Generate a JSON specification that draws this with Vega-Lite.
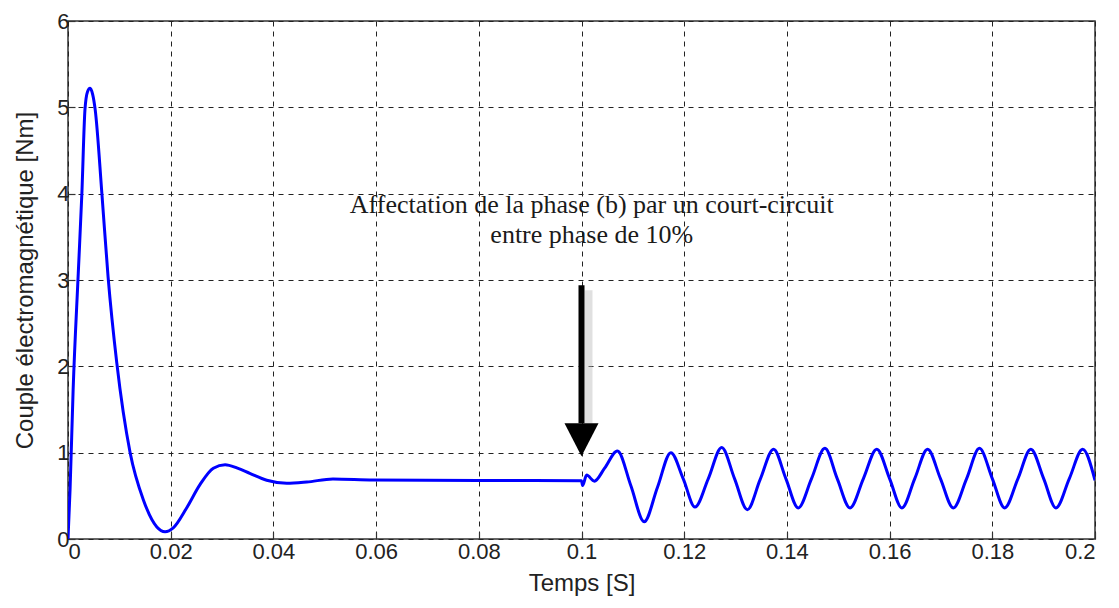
{
  "$schema": "https://vega.github.io/schema/vega-lite/v6.json",
  "width": 1027,
  "height": 518,
  "autosize": "none",
  "padding": {"left": 68, "top": 21, "right": 24, "bottom": 69},
  "background": "white",
  "config": {
    "view": {"stroke": "#333333", "strokeWidth": 1.5},
    "axis": {
      "grid": true,
      "gridColor": "#222222",
      "gridDash": [5, 5],
      "gridWidth": 1,
      "gridOpacity": 1,
      "domain": false,
      "tickColor": "#333333",
      "tickSize": -7,
      "tickWidth": 1.2,
      "labelFont": "Liberation Sans",
      "labelFontSize": 22,
      "labelColor": "#222222",
      "titleFont": "Liberation Sans",
      "titleFontSize": 24,
      "titleFontWeight": "normal",
      "titleColor": "#222222"
    }
  },
  "datasets": {
    "couple": [
      {"t": 0, "v": 0},
      {"t": 0.0004, "v": 0.57},
      {"t": 0.001, "v": 1.73},
      {"t": 0.002, "v": 3.08},
      {"t": 0.0027, "v": 4.0},
      {"t": 0.0033, "v": 4.97},
      {"t": 0.0038, "v": 5.18},
      {"t": 0.0043, "v": 5.22},
      {"t": 0.0048, "v": 5.15},
      {"t": 0.0053, "v": 4.97},
      {"t": 0.0066, "v": 4.0},
      {"t": 0.0078, "v": 3.04},
      {"t": 0.0095, "v": 2.04},
      {"t": 0.0121, "v": 1.0},
      {"t": 0.0147, "v": 0.45},
      {"t": 0.0173, "v": 0.14},
      {"t": 0.0189, "v": 0.085},
      {"t": 0.0205, "v": 0.13},
      {"t": 0.0231, "v": 0.36},
      {"t": 0.0257, "v": 0.63},
      {"t": 0.0283, "v": 0.82},
      {"t": 0.0306, "v": 0.86},
      {"t": 0.033, "v": 0.82},
      {"t": 0.0354, "v": 0.76},
      {"t": 0.0387, "v": 0.68},
      {"t": 0.0426, "v": 0.645},
      {"t": 0.0465, "v": 0.66},
      {"t": 0.0516, "v": 0.695},
      {"t": 0.0594, "v": 0.683},
      {"t": 0.08, "v": 0.678},
      {"t": 0.1, "v": 0.675},
      {"t": 0.1002, "v": 0.62},
      {"t": 0.101, "v": 0.74},
      {"t": 0.1025, "v": 0.67},
      {"t": 0.1045, "v": 0.82},
      {"t": 0.107, "v": 1.02},
      {"t": 0.1096, "v": 0.62},
      {"t": 0.1122, "v": 0.2},
      {"t": 0.1148, "v": 0.6},
      {"t": 0.1174, "v": 1.0},
      {"t": 0.1198, "v": 0.7},
      {"t": 0.1221, "v": 0.37},
      {"t": 0.1247, "v": 0.7},
      {"t": 0.1273, "v": 1.06},
      {"t": 0.1298, "v": 0.7},
      {"t": 0.1323, "v": 0.34},
      {"t": 0.1348, "v": 0.69},
      {"t": 0.1374, "v": 1.04},
      {"t": 0.1398, "v": 0.7},
      {"t": 0.1422, "v": 0.36},
      {"t": 0.1448, "v": 0.7},
      {"t": 0.1474, "v": 1.05},
      {"t": 0.1498, "v": 0.7},
      {"t": 0.1523, "v": 0.36},
      {"t": 0.1549, "v": 0.7},
      {"t": 0.1575, "v": 1.04},
      {"t": 0.16, "v": 0.7},
      {"t": 0.1624, "v": 0.36},
      {"t": 0.1649, "v": 0.7},
      {"t": 0.1674, "v": 1.04},
      {"t": 0.1699, "v": 0.7},
      {"t": 0.1724, "v": 0.36},
      {"t": 0.175, "v": 0.7},
      {"t": 0.1775, "v": 1.05},
      {"t": 0.18, "v": 0.7},
      {"t": 0.1824, "v": 0.36},
      {"t": 0.185, "v": 0.7},
      {"t": 0.1875, "v": 1.04},
      {"t": 0.19, "v": 0.7},
      {"t": 0.1924, "v": 0.36},
      {"t": 0.195, "v": 0.7},
      {"t": 0.1976, "v": 1.04},
      {"t": 0.2, "v": 0.68}
    ],
    "arrow": [
      {"t": 0.1, "top": 2.94, "bottom": 1.34, "head": 1.155}
    ],
    "note": [
      {"t": 0.102, "v": 3.775, "label": "Affectation de la phase (b) par un court-circuit"},
      {"t": 0.102, "v": 3.43, "label": "entre phase de 10%"}
    ]
  },
  "layer": [
    {
      "data": {"name": "couple"},
      "mark": {"type": "line", "color": "#0000ff", "strokeWidth": 3, "interpolate": "monotone", "clip": true},
      "encoding": {
        "x": {
          "field": "t", "type": "quantitative",
          "scale": {"domain": [0, 0.2], "nice": false, "zero": false},
          "axis": {"values": [0, 0.02, 0.04, 0.06, 0.08, 0.1, 0.12, 0.14, 0.16, 0.18, 0.2], "format": ".2~f", "title": "Temps [S]", "labelPadding": 9, "titlePadding": 9}
        },
        "y": {
          "field": "v", "type": "quantitative",
          "scale": {"domain": [0, 6], "nice": false},
          "axis": {"values": [0, 1, 2, 3, 4, 5, 6], "format": "d", "title": "Couple électromagnétique [Nm]", "labelPadding": 6, "titlePadding": 19}
        }
      }
    },
    {
      "data": {"name": "arrow"},
      "mark": {"type": "rule", "color": "#bbbbbb", "strokeWidth": 8, "opacity": 0.45, "xOffset": 7, "yOffset": 5},
      "encoding": {
        "x": {"field": "t", "type": "quantitative"},
        "y": {"field": "top", "type": "quantitative"},
        "y2": {"field": "bottom"}
      }
    },
    {
      "data": {"name": "arrow"},
      "mark": {"type": "rule", "color": "#000000", "strokeWidth": 6},
      "encoding": {
        "x": {"field": "t", "type": "quantitative"},
        "y": {"field": "top", "type": "quantitative"},
        "y2": {"field": "bottom"}
      }
    },
    {
      "data": {"name": "arrow"},
      "mark": {"type": "point", "shape": "M-1,-0.95L1,-0.95L0,1Z", "filled": true, "color": "#000000", "size": 1156, "opacity": 1},
      "encoding": {
        "x": {"field": "t", "type": "quantitative"},
        "y": {"field": "head", "type": "quantitative"}
      }
    },
    {
      "data": {"name": "note"},
      "mark": {"type": "text", "font": "Liberation Serif", "fontSize": 26, "color": "#1a1a1a", "align": "center", "baseline": "alphabetic"},
      "encoding": {
        "x": {"field": "t", "type": "quantitative"},
        "y": {"field": "v", "type": "quantitative"},
        "text": {"field": "label"}
      }
    }
  ]
}
